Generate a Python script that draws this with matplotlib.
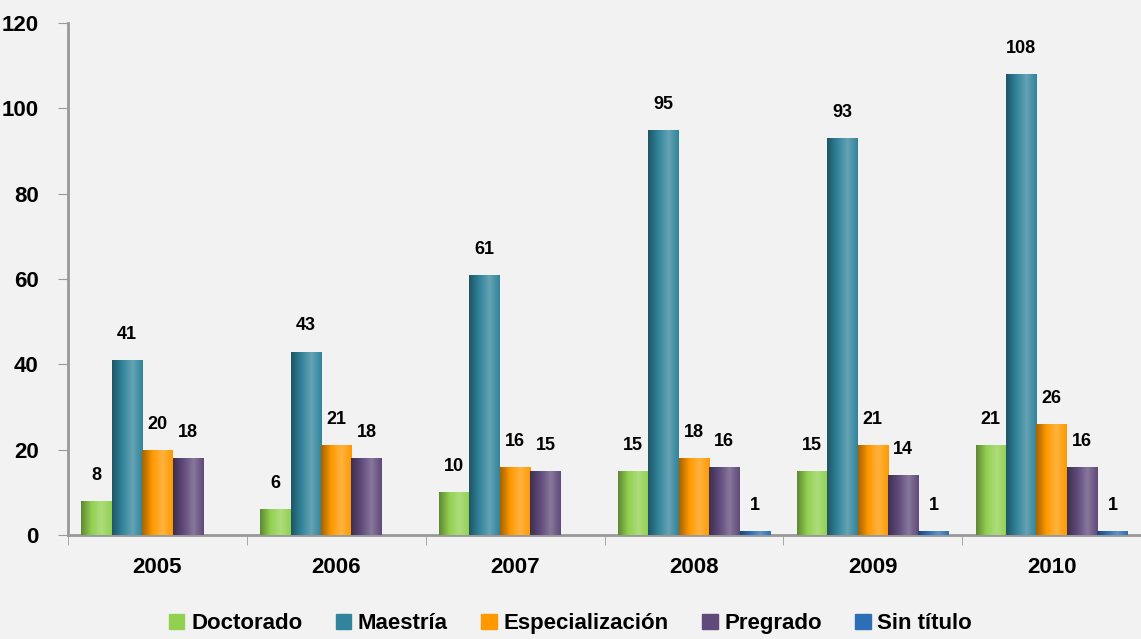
import matplotlib.pyplot as plt
import numpy as np
from matplotlib import font_manager
from matplotlib.colors import LinearSegmentedColormap, to_rgb

years = ["2005", "2006", "2007", "2008", "2009", "2010"]
series = ["Doctorado", "Maestría", "Especialización", "Pregrado", "Sin título"]
doctorado = [8, 6, 10, 15, 15, 21]
maestria = [41, 43, 61, 95, 93, 108]
especializacion = [20, 21, 16, 18, 21, 26]
pregrado = [18, 18, 15, 16, 14, 16]
sin_titulo = [None, None, None, 1, 1, 1]

colors = ["#92d050", "#31849b", "#ff9900", "#604a7b", "#2e6eb5"]

names = {f.name for f in font_manager.fontManager.ttflist}
fam = "Liberation Sans Narrow" if "Liberation Sans Narrow" in names else "Liberation Sans"
plt.rcParams["font.family"] = [fam, "DejaVu Sans"]
plt.rcParams["font.weight"] = "bold"

bg = "#f2f2f2"
fig = plt.figure(figsize=(11.41, 6.39), dpi=100, facecolor=bg)
ax = fig.add_axes([0.0596, 0.1628, 0.9404, 0.8012], facecolor=bg)

x = np.arange(len(years))
w = 0.17
all_vals = [doctorado, maestria, especializacion, pregrado, sin_titulo]


def shade(c, f):
    r = np.array(to_rgb(c))
    if f < 1:
        return tuple(r * f)
    return tuple(r + (1 - r) * (f - 1))


for i, (vals, c) in enumerate(zip(all_vals, colors)):
    h = [v if v is not None else 0 for v in vals]
    pos = x + (i - 2) * w
    bars = ax.bar(pos, h, w, color=c, edgecolor="none", zorder=2)
    cmap = LinearSegmentedColormap.from_list(
        "g", [shade(c, 0.65), shade(c, 1.0), shade(c, 1.25), shade(c, 1.0)])
    grad = np.linspace(0, 1, 64).reshape(1, -1)
    for b, v in zip(bars, vals):
        if v is None:
            continue
        x0, y0 = b.get_x(), b.get_y()
        im = ax.imshow(grad, cmap=cmap, aspect="auto", zorder=3,
                       extent=[x0, x0 + b.get_width(), y0, y0 + b.get_height()])
        im.set_clip_path(b)
        ax.text(b.get_x() + w / 2, v + 4, str(v), ha="center", va="bottom",
                fontsize=13, fontweight="bold", zorder=4)

ax.set_xlim(-0.5, len(years) - 0.5)
ax.set_ylim(0, 120)
ax.set_yticks(range(0, 121, 20))
ax.set_xticks(x)
ax.set_xticklabels(years)
ax.set_xticks(np.arange(-0.5, len(years) - 0.4, 1), minor=True)
ax.tick_params(axis="x", which="major", length=0, pad=16, labelsize=16)
ax.tick_params(axis="x", which="minor", length=7, direction="out", color="#999999")
ax.tick_params(axis="y", length=7, direction="out", color="#999999", labelsize=16, pad=14)
for t in ax.get_xticklabels() + ax.get_yticklabels():
    t.set_fontweight("bold")
for s in ["top", "right"]:
    ax.spines[s].set_visible(False)
for s in ["left", "bottom"]:
    ax.spines[s].set_color("#999999")
    ax.spines[s].set_linewidth(2)

handles = [plt.Rectangle((0, 0), 1, 1, color=c) for c in colors]
leg = fig.legend(handles, series, loc="lower center", bbox_to_anchor=(0.5, -0.024),
                 ncol=5, frameon=False, handlelength=0.7,
                 handleheight=0.7, handletextpad=0.3, columnspacing=1.5,
                 prop={"weight": "bold", "size": 16})

fig.savefig("out.png", dpi=100, facecolor=bg)
